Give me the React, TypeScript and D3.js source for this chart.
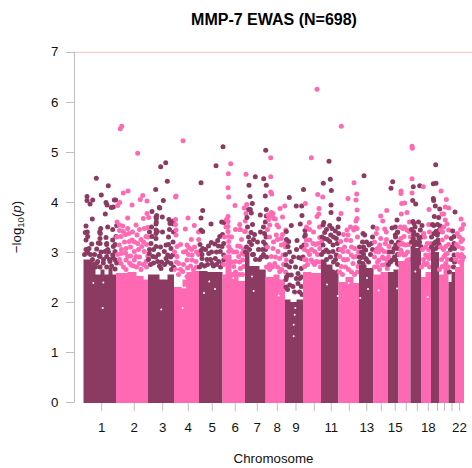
import React from "react";
import * as d3 from "d3";

const title = "MMP-7 EWAS (N=698)";
const xLabel = "Chromosome";
const yTicks = [0, 1, 2, 3, 4, 5, 6, 7];
const chromLengths = [32.5, 32, 26, 25, 23.5, 22.5, 20.7, 19.3, 18, 18, 17.5, 20.5, 14.5, 14.5, 10.5, 12, 10.5, 10, 8, 9.5, 6.5, 9];
const tickPositions = [18.2, 50.8, 79.2, 104.8, 128.8, 151.8, 173.8, 193.8, 212.5, 230.8, 247.8, 265.8, 283.3, 297.8, 311.7, 322.8, 333.8, 344.8, 354, 361, 368.5, 376];
const tickLabels = ["1", "2", "3", "4", "5", "6", "7", "8", "9", "", "11", "", "13", "", "15", "", "", "18", "", "", "", "22"];

type P = [number, number];
const envelopes: P[][] = [
  [[0, 2.85], [9, 2.72], [12, 2.55], [17, 2.65], [21, 2.55], [25, 2.68], [29, 2.55]],
  [[32.5, 2.58], [44, 2.6], [53, 2.52], [60, 2.45]],
  [[64.5, 2.55], [72, 2.55], [76, 2.45], [84, 2.55]],
  [[90.5, 2.3], [99, 2.45], [103, 2.6], [108, 2.62]],
  [[115.5, 2.62], [124, 2.6], [132, 2.6]],
  [[139, 2.55], [142, 2.95], [148, 2.6], [155, 2.42]],
  [[161.5, 3.0], [166, 2.72], [176, 2.65]],
  [[182, 2.5], [190, 2.55], [196, 2.45]],
  [[201.5, 2.05], [207, 2.0], [213, 2.05]],
  [[219.5, 2.6], [228, 2.58]],
  [[237.5, 2.85], [243, 2.75], [249, 2.65]],
  [[255, 2.4], [262, 2.5], [270, 2.38]],
  [[275.5, 2.75], [283, 2.68]],
  [[290, 2.55], [297, 2.6]],
  [[304.5, 2.6], [310, 2.65]],
  [[315, 2.82], [321, 2.85]],
  [[327, 3.12], [332, 3.08]],
  [[337.5, 2.5], [342, 2.6]],
  [[347.5, 3.05], [351, 3.0]],
  [[355.5, 2.55], [360, 2.75]],
  [[365, 2.4], [368, 2.6]],
  [[371.5, 2.7], [376, 2.8]],
];

const chr1: P[] = [[12.8,4.47],[24.8,4.32],[17.8,4.14],[3.5,4.11],[3.5,4.03],[9.2,4.04],[6.5,3.96],[22.5,3.99],[23.5,3.94],[32.2,4.04],[30.8,4.04],[29.8,3.9],[27.8,3.89],[21.8,3.76],[8.8,3.66],[24.2,3.5],[33.2,3.53],[2.5,3.52],[3.8,3.4],[1.8,3.39],[17.2,3.47],[16.2,3.4],[2.5,3.24],[4.2,3.31],[8.2,3.16],[16.8,3.37],[16.5,3.27],[16.5,3.17],[29.2,3.45],[22.5,3.29],[23.2,3.17],[29.2,3.24],[29.8,3.11],[32.5,3.31],[13.2,3.06],[15.8,2.92],[4.2,3.04],[17.5,3],[24.2,3.05],[29.2,2.94],[31.8,2.84],[14.2,2.81],[11,2.95],[20,2.85],[26,2.85],
  [14.8,3.18],[23.2,3.15],[31.5,3.15],[21.5,3.01],[31.5,3.01],[16.5,2.91],[23.2,2.91],[29.8,2.88],[13.2,2.78],[19.8,2.78],[26.5,2.81],[33.2,2.78],[16.5,2.7],[23.2,2.7],[31.5,2.66],[1,2.95],[4,2.98],[7,2.95],[9,2.85],[2.5,3.05],[5.5,3.07],[10,2.75],[12,2.7],[28,2.72],[25,3.0]];
const chr2: P[] = [[38.2,5.51],[36.8,5.46],[54.2,4.97],[39.8,4.18],[44.5,4.22],[48.5,3.94],[59.2,4.13],[56.8,4.05],[63.5,4.02],[36.2,3.99],[34.2,3.93],[44.2,3.68],[63.5,3.77],[59.8,3.67],[65.2,3.69],[52.5,3.54],[35.8,3.54],[39.2,3.52],[44.2,3.47],[60.8,3.47],[64.2,3.49],[39.8,3.41],[45.2,3.37],[53.5,3.34],[48.5,3.24],[37.5,3.31],[57.5,3.25],[62.5,3.31],[45.8,3.21],[54.2,3.17],[35.8,3.14],[42.5,3.07],[50.8,3.01],[58.2,3.11],[37.5,2.97],[44.2,2.91],[52.5,2.91],[60.8,3.01],[64.2,2.92],[50.8,2.84],[42.5,2.84],[55.8,2.77],[62.5,2.81],[37.5,2.77],[47.5,2.74],[57.5,2.65],[42.5,2.65],
  [36,2.85],[40,2.7],[46,2.78],[50,2.72],[53,2.7],[56,2.9],[60,2.75],[63,2.7],[38,3.05],[41,3.2],[47,3.1],[51,3.2],[55,3.05],[60,3.2],[63,3.15],[33.5,3.3],[33.5,3.6],[36,3.43],[42,3.35],[49,3.4],[56,3.45],[42,2.98],[47,2.92],[34,2.95],[64.5,3.3]];
const chr3: P[] = [[82.2,4.78],[77.2,4.7],[83.8,4.41],[72.2,4.25],[79.8,4.03],[76.2,3.88],[68.5,3.81],[73.2,3.73],[72.5,3.7],[78.8,3.7],[85.5,3.65],[90,3.62],[88.2,3.6],[86.5,3.57],[89.8,3.56],[72.5,3.56],[73.8,3.41],[72.5,3.37],[72.8,3.67],[72.8,3.6],[75.8,3.89],[68.5,3.31],[67.5,3.17],[72.5,3.44],[72.5,3.11],[65.8,2.97],[69.2,2.91],[80.8,3.01],[84.2,2.94],[87.5,3.07],[82.5,2.87],[74.2,2.81],[77.5,2.67],[89.2,2.94],[87.5,2.77],[72.5,3.27],[82.5,3.14],
  [65,2.85],[67,2.75],[70,2.78],[72,2.9],[75,2.95],[78,2.8],[81,2.75],[84,2.8],[87,2.9],[90,2.7],[66,3.05],[70,3.05],[77,3.1],[85,3.15],[89.5,3.2],[90,3.4],[85,3.3],[68,3.5],[66,3.4],[79,3.4],[86,3.45],[76,2.72],[88,2.65]];
const chr4: P[] = [[99.5,5.22],[92.5,4.12],[92,4.1],[104.5,3.68],[110.8,3.53],[101.8,3.46],[92.5,3.44],[92.5,3.34],[107.8,3.25],[93.5,3.11],[103.5,3.14],[105.2,3.09],[115.2,3.25],[102.5,3.01],[108.5,2.94],[93.5,2.91],[112.5,2.81],[103.5,2.84],[95.2,2.77],[108.5,2.84],[99.2,2.61],[103.5,2.51],
  [91,3.0],[93,2.8],[97,2.65],[100,2.75],[104,2.68],[107,2.72],[110,2.65],[113,2.7],[115,2.95],[100,3.0],[97,3.15],[111,3.1],[92,2.65],[95,2.55],[105,2.95],[113,3.0],[115,3.4],[92,3.65],[92,3.55],[108,3.05]];
const chr5: P[] = [[139.5,5.1],[132.5,4.72],[117.5,4.38],[119.2,3.83],[117.5,3.68],[127.5,3.56],[138.2,3.6],[140.5,3.59],[117.5,3.44],[119.2,3.41],[136.2,3.31],[134.2,3.23],[127.8,3.19],[131.2,3.16],[119.2,3.07],[117.5,3.03],[140.2,3.17],[138.5,3.11],[136.8,3.01],[125.2,2.97],[118.5,2.87],[123.5,2.85],[140.2,2.94],[131.8,2.87],[140.2,2.84],[135.2,2.81],[128.5,2.77],
  [116,2.7],[118,2.75],[121,2.72],[124,2.75],[127,2.85],[130,2.72],[133,2.75],[137,2.7],[139,2.75],[116.5,3.15],[118.5,2.95],[122,3.05],[128,3.0],[133,3.0],[139,3.35],[135,3.12],[125,3.12]];
const chr6: P[] = [[147.2,4.76],[144.8,4.56],[144.5,4.28],[145.2,4.1],[151.5,3.93],[144.5,3.71],[144.5,3.61],[144.5,3.51],[144.5,3.41],[145.2,3.31],[145.2,3.21],[145.2,3.11],[145.2,3.01],[156.2,3.55],[156.8,3.45],[161.2,3.41],[154.2,3.12],[156.8,3.11],[158.5,2.97],[155.2,2.91],[159.2,2.84],[151.8,2.81],[160.2,2.71],[156.8,2.67],[150.2,2.71],[162.5,4.55],[163.2,3.95],[160.8,3.88],[162.5,3.77],[161.8,3.62],[161.8,3.41],[156.5,3.45],
  [140,2.75],[141.5,2.9],[148,2.8],[152,2.6],[156,2.55],[159,2.55],[147,3.05],[150,3.0],[153,3.0],[158,3.25],[160,3.05],[141,3.3],[142.5,3.5],[143,3.65],[148,3.3],[152,3.45],[156,2.8],[161,2.95]];
const chr7: P[] = [[182.2,5.03],[171.8,4.5],[180.2,4.46],[165.5,4.33],[182.8,4.33],[166.5,4.11],[181.8,4.12],[168.8,3.97],[166.8,3.85],[165.2,3.85],[167.8,3.78],[163.5,3.69],[176.8,3.74],[182.8,3.85],[182.8,3.72],[181.8,3.6],[167.5,3.39],[181,3.37],[170,3.25],[180,3.2],[166,3.2],[175,3.05],[182,3.05],[170,2.95],[178,2.9],
  [162,3.0],[163,3.1],[166,3.05],[169,2.95],[172,2.85],[176,2.85],[180,2.95],[183,2.9],[165,3.3],[168,3.15],[171,3.35],[174,3.2],[177,3.4],[180,3.5],[182.5,3.3],[164,3.5],[169,3.55],[182,3.15],[179,3.05]];
const chr8: P[] = [[187.2,4.88],[187.2,4.5],[187.2,4.2],[188.2,4.16],[201.2,3.92],[196.5,3.87],[187.8,3.79],[184.5,3.74],[190.5,3.67],[189.5,3.77],[188.2,3.72],[191.8,3.66],[193.5,3.54],[185.2,3.65],[186.2,3.54],[192.8,3.34],[202.2,3.44],[197.8,3.27],[201.2,3.17],[197.8,3.14],[189.5,3.07],[194.5,3.01],[199.5,2.94],[202.8,2.84],[187.8,2.91],[196.2,2.87],[191.2,2.77],[196.2,2.61],[186.2,2.65],
  [183,2.7],[186,2.75],[189,2.7],[192,2.9],[194,2.7],[198,2.65],[200,2.75],[184,3.1],[186,3.3],[190,3.2],[194,3.25],[199,3.35],[202,3.1],[184,3.45],[199,3.7],[195,3.5],[202,2.6]];
const chr9: P[] = [[205.8,4.09],[220,4.25],[212.8,3.92],[218.2,3.92],[218.5,3.73],[216.8,3.56],[207.8,3.53],[221.5,3.43],[221.8,3.34],[202.8,3.41],[205.2,3.21],[213.5,3.23],[204.5,3.11],[221.2,3.31],[220.5,3.14],[215.2,2.89],[207.8,2.81],[217.8,2.87],[202.8,2.74],[217.8,2.67],[204.5,2.54],[214.5,2.57],[207.8,2.54],[216.2,2.47],[212.8,2.47],[206.2,2.34],[209.5,2.31],[214.5,2.37],[217.8,2.31],[204,2.25],[211,2.2],[216,2.2],
  [202,2.95],[206,3.0],[210,2.9],[213,3.05],[218,3.1],[203,2.5],[206,2.7],[212,2.7],[219.5,2.9],[203,3.25],[202.5,2.3],[202.5,2.45],[218,2.5],[218.5,2.15]];
const chr10: P[] = [[233.5,6.25],[227.8,4.88],[221.8,3.97],[234.2,4.15],[239.2,4.1],[235.5,3.87],[235.2,3.76],[233.5,3.71],[225.8,3.59],[222.8,3.24],[226.2,3.24],[229.5,3.17],[222.8,3.14],[236.2,3.29],[234.5,3.17],[224.5,3.01],[231.2,3.01],[236.2,3.07],[222.8,2.84],[227.8,2.84],[232.8,2.81],[221.2,2.71],[234,2.95],[237,2.8],
  [221,2.85],[224,2.75],[226,2.95],[229,2.8],[231,2.75],[234,2.8],[237,2.7],[228,3.05],[232,3.15],[221,3.05],[226,3.45],[230,3.4],[236,3.5],[238,3.2],[223,3.5]];
const chr11: P[] = [[245.5,4.81],[239.8,4.37],[246.8,4.45],[247.8,4.23],[247.5,3.94],[247.5,3.79],[255.2,3.66],[240.2,3.59],[239.5,3.54],[246.2,3.53],[248.5,3.47],[251.8,3.42],[255.2,3.37],[241.2,3.39],[247.2,3.34],[241.2,3.27],[252.8,3.27],[246.2,3.21],[239.5,3.14],[249.5,3.14],[253.8,3.17],[242.8,3.04],[249.5,3.01],[252.8,2.94],
  [238,2.95],[240,3.0],[243,2.85],[245,3.0],[247,2.9],[250,2.8],[252,2.85],[254,2.75],[255,3.05],[244,3.25],[250,3.3],[254.5,3.5],[238.5,3.3],[243,3.45]];
const chr12: P[] = [[257.8,5.51],[270.5,4.38],[273.2,4.16],[264.5,4.07],[272.5,4.04],[273.5,3.84],[257.5,3.77],[273.5,3.67],[272.5,3.62],[271.8,3.49],[273.5,3.47],[263.5,3.44],[270.2,3.44],[264.5,3.34],[262.8,3.24],[257.2,3.21],[267.2,3.23],[259.5,3.01],[264.5,3.01],[271.2,3.07],[256.2,2.91],[267.8,2.94],[272.8,2.91],[261.2,2.84],[269.5,2.77],[257.8,2.71],[274.5,2.71],
  [256,2.6],[259,2.55],[262,2.7],[265,2.65],[268,2.6],[271,2.55],[274,2.6],[260,2.85],[264,2.85],[270,2.9],[257,3.05],[261,3.1],[268,3.1],[274,3.3],[260,3.35],[267,3.5],[275,3.0]];
const chr13: P[] = [[280.5,4.52],[289.5,3.5],[279.5,3.37],[281.2,3.34],[281.2,3.04],[277.8,2.89],[282.2,2.87],[279.5,2.77],[287.8,3.17],[285.5,3.14],[282.2,3.04],
  [276,2.9],[278,3.0],[280,2.95],[283,2.85],[285,2.8],[287,2.95],[289,3.05],[276,3.1],[279,3.2],[283,3.2],[289,3.3],[276,2.8],[280,3.1]];
const chr14: P[] = [[297.2,3.72],[303.2,3.83],[299.2,3.62],[293.5,3.47],[292.8,3.37],[301.2,3.46],[302.8,3.4],[297.2,3.27],[301.8,3.17],[296.2,3.14],[293.8,3.07],[292.2,3.01],[300.5,3.01],[305.5,3.11],[300.5,2.87],[303.8,2.84],[295.5,2.84],[303.8,2.67],[293.8,2.71],[298.8,2.74],
  [291,2.7],[294,2.8],[296,2.65],[299,2.9],[302,2.75],[304,3.0],[291,2.9],[295,3.0],[298,3.05],[303,3.25],[291,3.2],[305,2.9]];
const chr15: P[] = [[309.2,4.4],[307.5,4.27],[313.5,3.64],[308.5,3.48],[311.8,3.5],[314.2,3.4],[311.8,3.34],[313.8,3.39],[312.2,3.14],[310.5,3.07],[313.8,3.07],[308.8,2.84],[312.2,2.84],[313.8,2.77],
  [305,2.75],[307,2.8],[309,3.0],[311,2.9],[314,2.95],[306,3.0],[308,3.2],[312,3.3],[315,3.2],[315,2.75]];
const chr16: P[] = [[328.5,5.11],[328.8,5.07],[317.5,4.22],[317.5,4.17],[328.5,4.46],[328.5,4.18],[318.2,3.97],[321.2,3.98],[317.8,3.76],[323.5,3.79],[316.8,3.5],[319.2,3.47],[323.5,3.44],[325.5,3.41],[317.2,3.27],[320.5,3.31],[318.8,3.17],[322.2,3.14],[317.2,3.04],[320.5,2.94],[323.8,2.84],[317.2,2.77],
  [316,2.95],[318,3.0],[320,3.15],[322,2.95],[324,3.0],[326,2.85],[316,3.15],[325,3.15],[327,3.3],[321,3.5],[326,3.6]];
const chr17: P[] = [[329.8,4.3],[336.2,4.32],[329.2,4.03],[332.2,3.96],[329.5,3.61],[330.5,3.57],[338.5,3.53],[330.2,3.4],[336.8,3.44],[333.8,3.34],[329.8,3.27],[335.5,3.27],[330.5,3.14],[337.2,3.11],
  [328,3.2],[330,3.35],[332,3.2],[334,3.15],[336,3.2],[338,3.3],[331.5,3.5],[335,3.6],[328,3.45]];
const chr18: P[] = [[339.8,4.3],[345.5,3.85],[345.2,3.55],[340.2,3.37],[343.8,3.17],[342.2,2.94],[345.5,2.87],[347.2,3.17],[343.8,2.77],[340.5,2.77],
  [338,2.7],[340,2.85],[342,2.75],[344,2.9],[346,2.7],[347,2.95],[339,3.05],[342,3.1],[345,3.05],[341,3.3],[346,3.4]];
const chr19: P[] = [[352.2,4.74],[349.8,4.36],[352.5,4.37],[349.8,4.07],[350.2,4.03],[351.8,3.92],[356.2,3.86],[350.8,3.71],[355.2,3.69],[350.2,3.53],[356.8,3.52],[352.5,3.41],[355.8,3.44],[350.5,3.37],[353.8,3.34],[350.5,3.17],[354.5,3.24],[352.2,3.07],
  [348,3.1],[350,3.05],[352,3.2],[354,3.1],[355.5,3.15],[348,3.3],[354,3.55],[349,3.55],[355,3.4]];
const chr20: P[] = [[357.5,4.22],[362.8,4.05],[361.8,3.9],[365.2,3.88],[360.2,3.76],[361.8,3.64],[363.5,3.56],[358.5,3.76],[365.2,3.44],[360.2,3.5],[357.2,3.44],[358.8,3.24],[362.2,3.11],[360.5,2.91],[363.8,2.97],[358.8,2.71],[362.2,2.77],
  [356,2.65],[358,2.85],[360,3.05],[362,2.95],[364,2.85],[365,3.15],[357,3.1],[359,3.4],[363,3.3],[365,2.7]];
const chr21: P[] = [[371.5,3.8],[369.2,3.42],[370.5,3.31],[367.8,3.27],[370.5,3.17],[371.2,3.07],[370.5,2.94],
  [366,2.6],[368,2.85],[370,2.7],[371,2.8],[367,3.05],[369,3.1]];
const chr22: P[] = [[377.5,3.66],[378.5,3.47],[377.2,3.45],[373.8,3.37],[377.5,3.21],[374.8,3.11],[378.8,3.07],[375.5,2.91],[378.8,2.84],
  [372,2.85],[374,2.95],[376,2.8],[378,2.95],[380,2.9],[373,3.15],[376,3.3],[379,3.25],[380,3.55]];
const chromPoints = [chr1, chr2, chr3, chr4, chr5, chr6, chr7, chr8, chr9, chr10, chr11, chr12, chr13, chr14, chr15, chr16, chr17, chr18, chr19, chr20, chr21, chr22];

// Small unplotted pockets visible inside the dense columns.
const gaps: P[] = [[79.8,2.52],[77.8,1.85],[19.2,1.88],[19.8,2.39],[9.8,2.38],[99.2,2.29],[101.5,2.29],[93.2,2.61],[99.2,1.88],[131.5,2.26],[125.8,2.41],[120.5,2.18],[149.8,2.48],[211.8,1.88],[211.2,1.75],[210.2,1.55],[210.2,1.32],[211.8,2.05],[209.5,2.15],[284.5,2.26],[283.5,2.48],[170.2,2.22],[168.5,2.51],[251.8,2.65],[254.2,2.12],[243.5,2.35],[195.2,2.13],[265.2,2.38],[276.8,2.08],[295.2,2.23],[313.5,2.27],[344.2,2.1],[331.8,2.61]];

const dark = "#8B3A62";
const pink = "#FF69B4";
const grey = "#BEBEBE";
const font = "'Liberation Sans', Arial, sans-serif";

export default function App() {
  const total = d3.sum(chromLengths);
  const x = d3.scaleLinear().domain([0, total]).range([83.5, 464]);
  const y = d3.scaleLinear().domain([0, 7]).range([402.3, 51.6]);
  const starts = Array.from(d3.cumsum([0, ...chromLengths]));
  const area = d3.area<P>().x(d => x(d[0])).y1(d => y(d[1])).y0(y(0) + 0.8).curve(d3.curveStepAfter);
  return (
    <svg width={472} height={468} style={{ position: "absolute", left: 0, top: 0, background: "#fff" }} fontFamily={font}>
      <text x={274} y={25} textAnchor="middle" fontSize={16} fontWeight="bold">{title}</text>
      {chromLengths.map((_, i) => {
        const env = [...envelopes[i], [starts[i + 1], envelopes[i][envelopes[i].length - 1][1]] as P];
        const c = i % 2 === 0 ? dark : pink;
        return (
          <g key={i} fill={c}>
            <path d={area(env) ?? ""} />
            {chromPoints[i].map((p, j) => <circle key={j} cx={x(p[0])} cy={y(p[1])} r={2.5} />)}
          </g>
        );
      })}
      {gaps.map((g, i) => <circle key={i} cx={x(g[0])} cy={y(g[1])} r={1} fill="#fff" />)}
      <line x1={75} x2={472} y1={y(6.985)} y2={y(6.985)} stroke="#FFBDBD" strokeWidth={1} />
      <line x1={74.5} x2={74.5} y1={y(7)} y2={y(0)} stroke={grey} />
      {yTicks.map(t => (
        <g key={t}>
          <line x1={66} x2={74.5} y1={Math.round(y(t)) + 0.5} y2={Math.round(y(t)) + 0.5} stroke={grey} />
          <text x={58.5} y={y(t) + 4.8} textAnchor="end" fontSize={13.3} fill="#111">{t}</text>
        </g>
      ))}
      {tickPositions.map((t, i) => (
        <g key={i}>
          <line x1={x(t)} x2={x(t)} y1={403} y2={411} stroke={grey} />
          {tickLabels[i] && <text x={x(t)} y={432} textAnchor="middle" fontSize={13.3} fill="#111">{tickLabels[i]}</text>}
        </g>
      ))}
      <text x={273.5} y={463} textAnchor="middle" fontSize={13.3} fill="#111">{xLabel}</text>
      <text transform="translate(21,227) rotate(-90)" textAnchor="middle" fontSize={13.3} fill="#111">
        −log<tspan fontSize={9.5} dy={3}>10</tspan><tspan dy={-3}>(</tspan><tspan fontStyle="italic">p</tspan>)
      </text>
    </svg>
  );
}
